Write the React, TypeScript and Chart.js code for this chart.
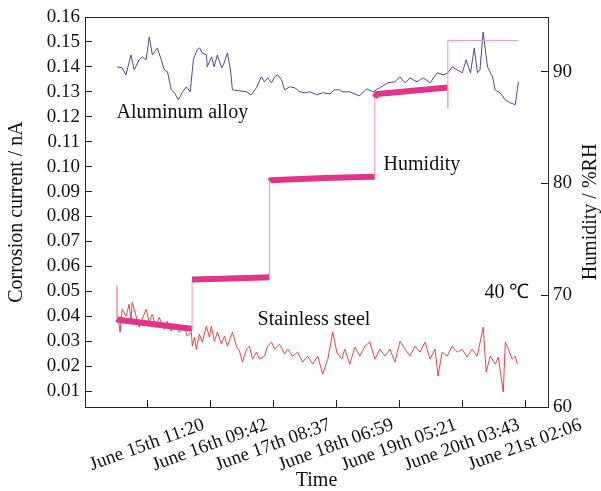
import { useEffect, useRef } from "react";
import { Chart, registerables } from "chart.js";
Chart.register(...registerables);

const FONT = '"Liberation Serif", "Times New Roman", serif';

// x axis: time in tick units (1 unit ≈ 22.4 h)
const xTickValues = [1, 2, 3, 4, 5, 6, 7];
const xTickLabels = [
  "June 15th 11:20",
  "June 16th 09:42",
  "June 17th 08:37",
  "June 18th 06:59",
  "June 19th 05:21",
  "June 20th 03:43",
  "June 21st 02:06",
];
const leftTicks = [0.01, 0.02, 0.03, 0.04, 0.05, 0.06, 0.07, 0.08, 0.09, 0.1, 0.11, 0.12, 0.13, 0.14, 0.15, 0.16];
const rightTicks = [60, 70, 80, 90];

const aluX = [0.51, 0.59, 0.65, 0.73, 0.78, 0.86, 0.91, 0.97, 1.02, 1.07, 1.15, 1.21, 1.26, 1.31, 1.37, 1.42, 1.48, 1.55, 1.61, 1.67, 1.72, 1.78, 1.82, 1.86, 1.93, 1.94, 2.01, 2.05, 2.1, 2.17, 2.21, 2.26, 2.31, 2.34, 2.45, 2.56, 2.64, 2.72, 2.8, 2.85, 2.9, 2.96, 3.01, 3.06, 3.12, 3.17, 3.25, 3.33, 3.41, 3.49, 3.57, 3.68, 3.77, 3.89, 3.96, 4.05, 4.08, 4.2, 4.36, 4.47, 4.57, 4.68, 4.81, 4.92, 5.0, 5.08, 5.16, 5.27, 5.37, 5.48, 5.59, 5.69, 5.76, 5.83, 5.91, 5.99, 6.05, 6.12, 6.18, 6.23, 6.27, 6.32, 6.39, 6.47, 6.51, 6.59, 6.67, 6.75, 6.83, 6.88];
const aluY = [0.14, 0.1396, 0.1368, 0.1448, 0.1388, 0.1428, 0.144, 0.1428, 0.152, 0.1448, 0.1476, 0.1428, 0.1388, 0.138, 0.1308, 0.1296, 0.1268, 0.13, 0.132, 0.13, 0.1428, 0.1468, 0.1476, 0.1456, 0.1448, 0.14, 0.144, 0.14, 0.1448, 0.1396, 0.1416, 0.1456, 0.1388, 0.1308, 0.1304, 0.13, 0.1288, 0.1316, 0.136, 0.134, 0.1356, 0.1336, 0.136, 0.1368, 0.1348, 0.1308, 0.132, 0.1316, 0.13, 0.1296, 0.13, 0.1288, 0.1296, 0.1292, 0.1308, 0.1308, 0.13, 0.13, 0.1284, 0.1312, 0.13, 0.1316, 0.1336, 0.134, 0.136, 0.1336, 0.1356, 0.134, 0.1356, 0.1336, 0.1376, 0.1368, 0.1376, 0.14, 0.1388, 0.1376, 0.1428, 0.1376, 0.1476, 0.1376, 0.1388, 0.154, 0.14, 0.136, 0.1308, 0.1296, 0.1268, 0.1256, 0.1248, 0.134];

const steelX = [0.525, 0.557, 0.589, 0.653, 0.7, 0.732, 0.748, 0.812, 0.86, 0.908, 0.971, 1.019, 1.067, 1.13, 1.178, 1.258, 1.306, 1.369, 1.417, 1.497, 1.576, 1.624, 1.688, 1.704, 1.736, 1.768, 1.815, 1.863, 1.927, 1.975, 2.006, 2.054, 2.102, 2.166, 2.213, 2.261, 2.341, 2.404, 2.452, 2.5, 2.564, 2.611, 2.659, 2.723, 2.771, 2.85, 2.898, 2.962, 3.01, 3.089, 3.169, 3.217, 3.296, 3.376, 3.455, 3.535, 3.615, 3.694, 3.774, 3.854, 3.933, 3.997, 4.076, 4.124, 4.204, 4.283, 4.363, 4.443, 4.522, 4.602, 4.682, 4.761, 4.841, 4.92, 5.0, 5.08, 5.159, 5.239, 5.318, 5.398, 5.478, 5.557, 5.605, 5.669, 5.748, 5.828, 5.908, 5.987, 6.067, 6.146, 6.226, 6.322, 6.369, 6.433, 6.513, 6.561, 6.64, 6.672, 6.72, 6.783, 6.831, 6.863];
const steelY = [0.04, 0.0336, 0.0428, 0.04, 0.0448, 0.038, 0.0456, 0.04, 0.0356, 0.0388, 0.0428, 0.0376, 0.0408, 0.0356, 0.0396, 0.0348, 0.038, 0.034, 0.0368, 0.0336, 0.0356, 0.032, 0.0336, 0.028, 0.0316, 0.0268, 0.0328, 0.0296, 0.036, 0.0316, 0.036, 0.03, 0.0336, 0.0288, 0.032, 0.028, 0.0336, 0.028, 0.026, 0.0216, 0.0268, 0.028, 0.0228, 0.0256, 0.0228, 0.024, 0.028, 0.0296, 0.0268, 0.0288, 0.0248, 0.0268, 0.024, 0.0256, 0.0216, 0.024, 0.0208, 0.024, 0.0168, 0.0228, 0.0336, 0.0256, 0.0228, 0.0268, 0.0208, 0.0276, 0.024, 0.028, 0.0296, 0.0228, 0.0268, 0.024, 0.0268, 0.0216, 0.03, 0.0268, 0.024, 0.028, 0.0256, 0.0296, 0.0228, 0.0268, 0.016, 0.0256, 0.024, 0.028, 0.0256, 0.0268, 0.0236, 0.0268, 0.024, 0.0356, 0.0176, 0.024, 0.0208, 0.0236, 0.0096, 0.0296, 0.0268, 0.0228, 0.024, 0.0208];

const humX = [0.51, 0.51, 0.53, 1.1, 1.7, 1.7, 1.71, 2.3, 2.93, 2.93, 2.95, 3.8, 4.6, 4.6, 4.63, 5.2, 5.76, 5.76, 5.76, 6.88];
const humY = [70.8, 67.9, 67.8, 67.4, 67.0, 71.4, 71.4, 71.5, 71.6, 80.2, 80.3, 80.5, 80.6, 87.7, 88.0, 88.3, 88.6, 86.7, 92.8, 92.8];
const humNoisyUntil = 5.76; // sensor trace is noisy up to here

const annotations = [
  { text: "Aluminum alloy", x: 0.5, y: 0.1218, axis: "y" },
  { text: "Humidity", x: 4.74, y: 0.1008, axis: "y" },
  { text: "Stainless steel", x: 2.74, y: 0.0384, axis: "y" },
  { text: "40 \u2103", x: 6.34, y: 0.0495, axis: "y" },
];

const toPts = (xs: number[], ys: number[]) => xs.map((x, i) => ({ x, y: ys[i] }));

const zeroPad = (s: any) => {
  s.paddingTop = 0;
  s.paddingBottom = 0;
  s.paddingLeft = 0;
  s.paddingRight = 0;
};

const decorPlugin = {
  id: "decor",
  afterDraw(chart: any) {
    const { ctx, chartArea, scales } = chart;
    ctx.save();
    ctx.strokeStyle = "#222";
    ctx.lineWidth = 1;
    ctx.strokeRect(chartArea.left + 0.5, chartArea.top + 0.5, chartArea.right - chartArea.left, chartArea.bottom - chartArea.top);
    // x tick labels, centred on their ticks
    ctx.fillStyle = "#111";
    ctx.font = `19px ${FONT}`;
    ctx.textAlign = "center";
    ctx.textBaseline = "middle";
    xTickValues.forEach((v, i) => {
      const px = scales.x.getPixelForValue(v);
      ctx.save();
      ctx.translate(px - 1, chartArea.bottom + 38);
      ctx.rotate((-20 * Math.PI) / 180);
      ctx.fillText(xTickLabels[i], 0, 0);
      ctx.restore();
    });
    // right axis title
    ctx.save();
    ctx.font = `20px ${FONT}`;
    ctx.translate(chartArea.right + 43, (chartArea.top + chartArea.bottom) / 2);
    ctx.rotate(-Math.PI / 2);
    ctx.fillText("Humidity / %RH", 0, 0);
    ctx.restore();
    // annotations
    ctx.font = `20px ${FONT}`;
    ctx.textAlign = "left";
    annotations.forEach((a) => {
      ctx.fillText(a.text, scales.x.getPixelForValue(a.x), scales[a.axis].getPixelForValue(a.y));
    });
    ctx.restore();
  },
};

export default function App() {
  const ref = useRef<HTMLCanvasElement>(null);
  useEffect(() => {
    if (!ref.current) return;
    Chart.defaults.font.family = FONT;
    Chart.defaults.color = "#111";
    const chart = new Chart(ref.current, {
      type: "line",
      data: {
        datasets: [
          {
            label: "Humidity",
            data: toPts(humX, humY),
            yAxisID: "y1",
            pointRadius: 0,
            borderWidth: 1,
            borderCapStyle: "butt",
            borderJoinStyle: "miter",
            borderColor: "rgb(242,150,192)",
            segment: {
              borderWidth: (c: any) =>
                c.p0.parsed.x !== c.p1.parsed.x && c.p1.parsed.x <= humNoisyUntil ? 6 : 1,
              borderColor: (c: any) =>
                c.p0.parsed.x !== c.p1.parsed.x && c.p1.parsed.x <= humNoisyUntil
                  ? "rgb(226,52,136)"
                  : "rgb(242,150,192)",
            },
          },
          {
            label: "Aluminum alloy",
            data: toPts(aluX, aluY),
            yAxisID: "y",
            pointRadius: 0,
            borderWidth: 1,
            borderColor: "rgb(80,70,155)",
          },
          {
            label: "Stainless steel",
            data: toPts(steelX, steelY),
            yAxisID: "y",
            pointRadius: 0,
            borderWidth: 1,
            borderColor: "rgba(232,50,50,0.9)",
          },
        ],
      },
      options: {
        animation: false,
        responsive: false,
        layout: { padding: { top: 17, left: 0, right: 0, bottom: 0 } },
        plugins: { legend: { display: false }, tooltip: { enabled: false } },
        scales: {
          x: {
            type: "linear",
            min: 0,
            max: 7.35,
            afterBuildTicks: (s: any) => {
              s.ticks = xTickValues.map((v) => ({ value: v }));
            },
            afterFit: (s: any) => {
              s.height = 84;
              zeroPad(s);
            },
            ticks: { display: false, autoSkip: false },
            grid: { drawOnChartArea: false, tickLength: -7, color: "#222" },
            border: { color: "#222" },
            title: { display: true, text: "Time", font: { size: 20, lineHeight: 1 }, padding: { top: 0, bottom: 0 } },
          },
          y: {
            type: "linear",
            position: "left",
            min: 0.0036,
            max: 0.16,
            afterBuildTicks: (s: any) => {
              s.ticks = leftTicks.map((v) => ({ value: v }));
            },
            afterFit: (s: any) => {
              s.width = 85;
              zeroPad(s);
            },
            ticks: { padding: 12, autoSkip: false, font: { size: 19 }, callback: (v: any) => Number(v).toFixed(2) },
            grid: { drawOnChartArea: false, tickLength: -7, color: "#222" },
            border: { color: "#222" },
            title: { display: true, text: "Corrosion current / nA", font: { size: 20, lineHeight: 1 }, padding: { top: 7, bottom: 0 } },
          },
          y1: {
            type: "linear",
            position: "right",
            min: 60,
            max: 94.9,
            afterBuildTicks: (s: any) => {
              s.ticks = rightTicks.map((v) => ({ value: v }));
            },
            afterFit: (s: any) => {
              s.width = 53;
              zeroPad(s);
            },
            ticks: { padding: 12, autoSkip: false, font: { size: 19 } },
            grid: { drawOnChartArea: false, tickLength: -7, color: "#222" },
            border: { color: "#222" },
          },
        },
      },
      plugins: [decorPlugin],
    });
    return () => chart.destroy();
  }, []);
  return (
    <div style={{ position: "fixed", left: 0, top: 0, width: 601, height: 491, background: "#fff" }}>
      <canvas ref={ref} width={601} height={491} style={{ width: 601, height: 491 }} />
    </div>
  );
}
